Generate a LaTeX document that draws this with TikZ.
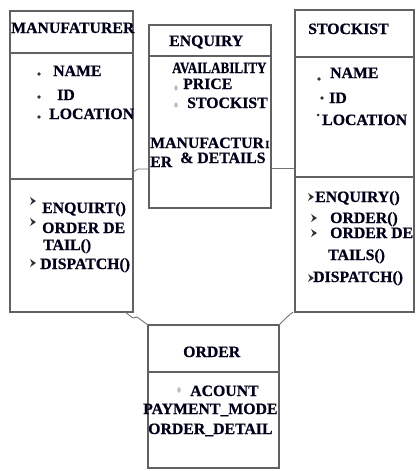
\documentclass[tikz,border=0pt]{standalone}
\usepackage{fontspec}
\usepackage{graphicx}
\setmainfont{Liberation Serif Bold}[FakeBold=0.6]
\begin{document}
\begin{tikzpicture}[x=1pt,y={(0pt,-1pt)},
  box/.style={draw=black!62, line width=1.2pt, inner sep=0pt, outer sep=0pt},
  ln/.style={draw=black!62, line width=1.2pt},
  con/.style={draw=black!55, line width=0.9pt},
  txt/.style={anchor=base west, inner sep=0pt, text=black!90!blue, font=\fontsize{15.8}{17}\selectfont},
  chev/.pic={\fill[black!80] (-3,-4) -- (3,0) -- (-3,4) -- (-1,0) -- cycle;},
  dot/.style={fill=black!80},
  gdot/.style={fill=black!25}
]
\useasboundingbox (0,0) rectangle (416,471);

% boxes
\node[box, minimum width=123pt, minimum height=301pt] (man) at (71.5,161.5) {};
\node[box, minimum width=122pt, minimum height=183pt] (enq) at (210,116.5) {};
\node[box, minimum width=119pt, minimum height=302pt] (stk) at (354.5,161) {};
\node[box, minimum width=131pt, minimum height=143pt] (ord) at (213.5,396.5) {};

% dividers
\draw[ln] (man.west |- 0,53) -- (man.east |- 0,53);
\draw[ln] (man.west |- 0,179) -- (man.east |- 0,179);
\draw[ln] (enq.west |- 0,56) -- (enq.east |- 0,56);
\draw[ln] (stk.west |- 0,57) -- (stk.east |- 0,57);
\draw[ln] (stk.west |- 0,177) -- (stk.east |- 0,177);
\draw[ln] (ord.west |- 0,372) -- (ord.east |- 0,372);

% connectors
\draw[con] (man.east |- 0,172) -- ++(5,-3) -- (enq.west |- 0,169);
\draw[con] (enq.east |- 0,168) -- (stk.west |- 0,168);
\draw[con] ([xshift=-8pt]man.south east) -- ++(8,6) -- ++(4,-1) -- (ord.north west);
\draw[con] ([xshift=-2pt]stk.south west) -- ++(-6,5) -- (ord.north east);

% MANUFATURER
\node[txt] (m0) at (11,33) {MANUFATURER};
\fill[dot] (39,74) circle (1.8pt);
\fill[dot] (39,97) circle (1.8pt);
\fill[dot] (39,117) circle (1.8pt);
\node[txt] (m1) at (53,76) {NAME};
\node[txt] (m2) at (57,100) {ID};
\node[txt] (m3) at (49,119) {LOCATION};
\pic at (33,201) {chev};
\pic at (33,222) {chev};
\pic at (33,263) {chev};
\node[txt] (m4) at (42,213) {ENQUIRT()};
\node[txt] (m5) at (42,233) {ORDER DE};
\node[txt] (m6) at (43,250) {TAIL()};
\node[txt] (m7) at (40,269) {DISPATCH()};

% ENQUIRY
\node[txt] (e0) at (169,46) {ENQUIRY};
\node[txt] (e1) at (172,73) {\scalebox{0.83}[1]{AVAILABILITY}};
\fill[gdot] (176,88) ellipse (1.8pt and 2.6pt);
\fill[gdot] (176,105) ellipse (1.8pt and 2.6pt);
\node[txt] (e2) at (183,89) {PRICE};
\node[txt] (e3) at (187,108) {STOCKIST};
\node[txt] (e4) at (150,148) {MANUFACTUR};
\node[txt, font=\fontsize{11}{12}\selectfont] (e5) at (265,148) {I};
\node[txt] (e6) at (150,167) {ER};
\node[txt] (e7) at (180,163) {\& DETAILS};

% STOCKIST
\node[txt] (s0) at (308,34) {STOCKIST};
\fill[dot] (319,79) circle (1.8pt);
\fill[dot] (322,98) circle (1.8pt);
\fill[dot] (318,115) circle (1.5pt);
\node[txt] (s1) at (330,78) {NAME};
\node[txt] (s2) at (329,103) {ID};
\node[txt] (s3) at (322,125) {LOCATION};
\pic at (311,197) {chev};
\pic at (314,218) {chev};
\pic at (314,233) {chev};
\pic at (311,278) {chev};
\node[txt] (s4) at (315,202) {ENQUIRY()};
\node[txt] (s5) at (330,223) {ORDER()};
\node[txt] (s6) at (330,238) {ORDER DE};
\node[txt] (s7) at (328,260) {TAILS()};
\node[txt] (s8) at (313,282) {DISPATCH()};

% ORDER
\node[txt] (o0) at (183,357) {ORDER};
\fill[gdot] (179,390) ellipse (1.8pt and 2.8pt);
\node[txt] (o1) at (190,396) {ACOUNT};
\node[txt] (o2) at (143,414) {PAYMENT\_MODE};
\node[txt] (o3) at (148,434) {ORDER\_DETAIL};
\end{tikzpicture}
\end{document}
